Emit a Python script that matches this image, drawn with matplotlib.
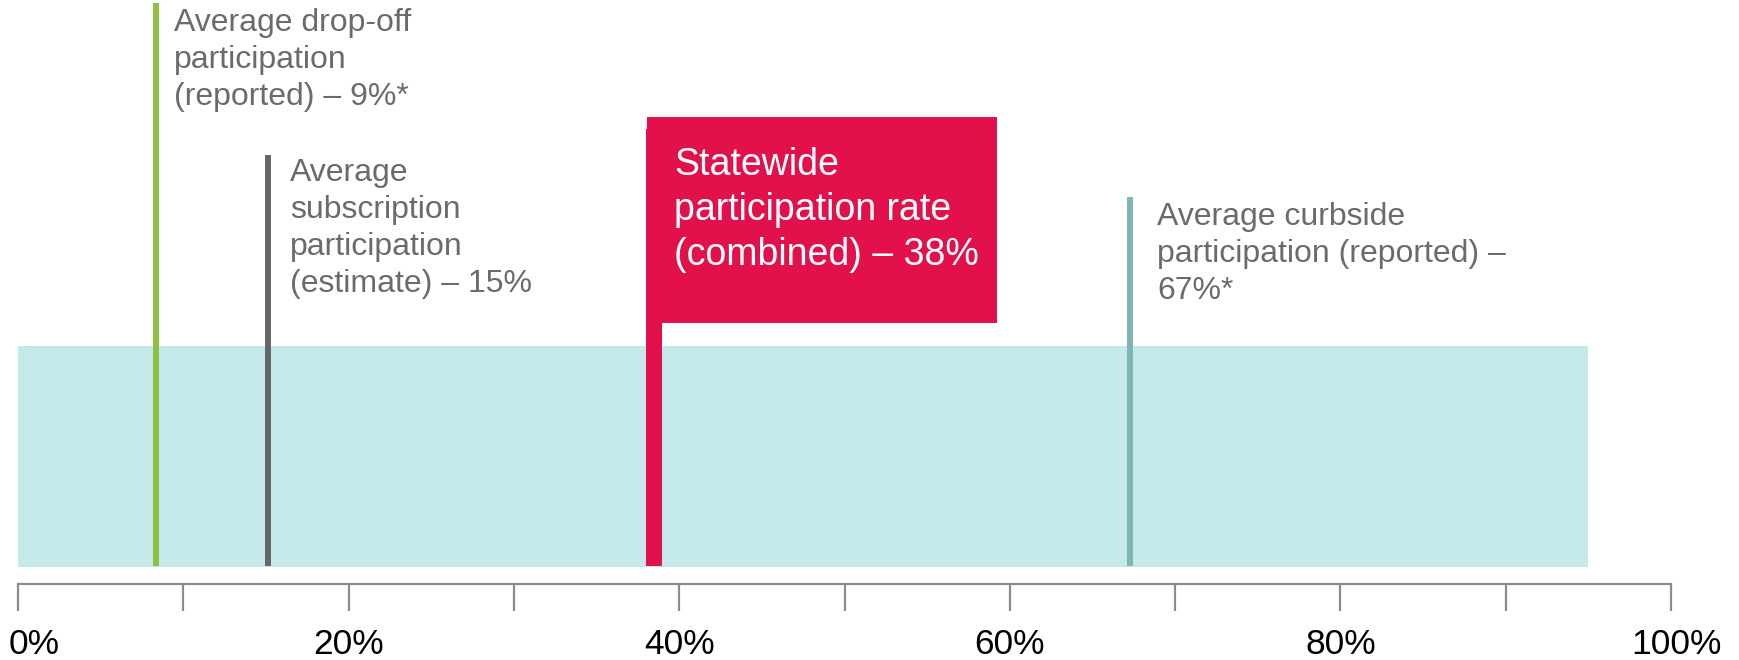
import matplotlib
matplotlib.use("Agg")
import matplotlib.pyplot as plt
import matplotlib.transforms as mtransforms

# data
band_range = [0, 95]
marker_values = [8.35, 15.1, 67.3]
marker_labels = [
    "Average drop-off\nparticipation\n(reported) \u2013 9%*",
    "Average\nsubscription\nparticipation\n(estimate) \u2013 15%",
    "Average curbside\nparticipation (reported) \u2013\n67%*",
]
statewide_value = 38
statewide_label = "Statewide\nparticipation rate\n(combined) \u2013 38%"
tick_values = [0, 20, 40, 60, 80, 100]
tick_labels = ["0%", "20%", "40%", "60%", "80%", "100%"]

# styles / layout (y in pixels from top)
marker_colors = ["#8dc13f", "#666666", "#7fb5b5"]
marker_tops = [3, 155, 197]
label_tops = [8, 158, 202]
label_offsets = [1.1, 1.35, 1.6]
band_top, band_bottom = 346, 566.7
red = "#e2104b"
text_gray = "#6b6b6b"
axis_gray = "#8c8c8c"

plt.rcParams["font.family"] = ["Liberation Sans", "DejaVu Sans"]

fig = plt.figure(figsize=(17.39, 6.6), dpi=100)
ax = fig.add_axes([18 / 1739, (660 - 584.3) / 660, 1653 / 1739, 584.3 / 660])
ax.set_xlim(0, 100)
ax.set_ylim(584.3, 0)

# background band
ax.bar(x=band_range[0], height=band_bottom - band_top,
       width=band_range[1] - band_range[0], bottom=band_top,
       align="edge", color="#c5e8ea", zorder=1)

# marker lines and labels
for v, lab, c, top, ltop, off in zip(marker_values, marker_labels, marker_colors,
                                     marker_tops, label_tops, label_offsets):
    ax.vlines(v, top, band_bottom - 1, colors=c, linewidth=4.3, zorder=2)
    ax.text(v + off, ltop, lab, color=text_gray, fontsize=23, va="top",
            ha="left", linespacing=1.3)

# statewide flag
ax.bar(x=statewide_value, height=band_bottom - 1 - 129, width=0.95, bottom=129,
       align="edge", color=red, zorder=3)
ax.bar(x=statewide_value + 0.05, height=323.3 - 116.7, width=21.15, bottom=116.7,
       align="edge", color=red, zorder=3)
ax.text(statewide_value + 1.7, 147, statewide_label, color="white", fontsize=27,
        va="top", ha="left", linespacing=1.32, zorder=4)

# axis
for s in ["top", "left", "right"]:
    ax.spines[s].set_visible(False)
ax.spines["bottom"].set_color(axis_gray)
ax.spines["bottom"].set_linewidth(1.6)
ax.set_yticks([])
ax.set_xticks(tick_values)
ax.set_xticklabels(tick_labels)
ax.set_xticks([10, 30, 50, 70, 90], minor=True)
ax.tick_params(axis="x", which="both", direction="out", length=19.4, width=1.6,
               color=axis_gray)
ax.tick_params(axis="x", which="major", labelsize=25.5, pad=12, labelcolor="black")
ax.patch.set_visible(False)

# first label sits inside the figure, left-aligned
first = ax.get_xticklabels()[0]
first.set_horizontalalignment("left")
first.set_transform(first.get_transform() +
                    mtransforms.ScaledTranslation(-0.095, 0, fig.dpi_scale_trans))
last = ax.get_xticklabels()[-1]
last.set_transform(last.get_transform() +
                   mtransforms.ScaledTranslation(0.05, 0, fig.dpi_scale_trans))

fig.savefig("out.png", dpi=100)
